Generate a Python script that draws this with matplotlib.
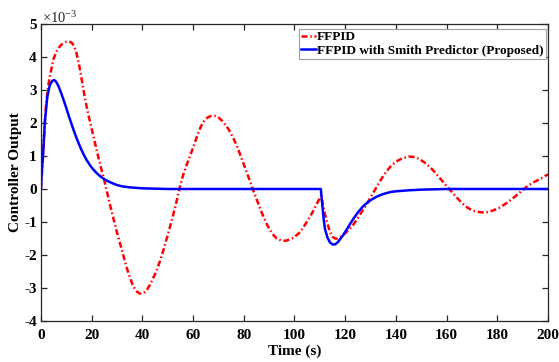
import matplotlib
matplotlib.use("Agg")
import matplotlib.pyplot as plt

# (time s, controller output in units of 1e-3)
ffpid_points = [
    (0, 0), (0.8, 1.0), (1.5, 2.0), (2, 2.55), (2.5, 2.9), (3, 3.2), (3.5, 3.4), (4, 3.6),
    (5, 3.95), (6, 4.15), (7, 4.28), (8, 4.37), (9, 4.43), (10, 4.46), (11, 4.47),
    (12, 4.44), (13, 4.35), (14, 4.12), (15, 3.78), (16, 3.35), (17, 2.9), (18, 2.5),
    (19, 2.15), (20, 1.82), (21, 1.5), (22, 1.17), (23, 0.85), (24, 0.55), (25, 0.25),
    (26, -0.08), (27, -0.4), (28, -0.72), (29, -1.02), (30, -1.32), (31, -1.6),
    (32, -1.88), (33, -2.15), (34, -2.43), (35, -2.66), (36, -2.87), (37, -3.02),
    (38, -3.12), (39, -3.17), (40, -3.17), (41, -3.12), (42, -3.03), (43, -2.9),
    (44, -2.74), (45, -2.58), (46, -2.39), (47, -2.17), (48, -1.93), (49, -1.67),
    (50, -1.4), (51, -1.12), (52, -0.83), (53, -0.53), (54, -0.2), (55, 0.12),
    (56, 0.4), (57, 0.63), (58, 0.84), (59, 1.04), (60, 1.25), (61, 1.47), (62, 1.69),
    (63, 1.88), (64, 2.02), (65, 2.12), (66, 2.18), (67, 2.21), (68, 2.22), (69, 2.21),
    (70, 2.17), (71, 2.1), (72, 2.02), (73, 1.92), (74, 1.81), (75, 1.67), (76, 1.52),
    (77, 1.35), (78, 1.16), (79, 0.96), (80, 0.75), (81, 0.54), (82, 0.33), (83, 0.12),
    (84, -0.1), (85, -0.3), (86, -0.5), (87, -0.7), (88, -0.88), (89, -1.05),
    (90, -1.2), (91, -1.32), (92, -1.42), (93, -1.5), (94, -1.54), (95, -1.56),
    (96, -1.57), (97, -1.56), (98, -1.53), (99, -1.5), (100, -1.45), (101, -1.39),
    (102, -1.32), (103, -1.22), (104, -1.1), (105, -0.98), (106, -0.85), (107, -0.72),
    (108, -0.57), (109, -0.42), (110, -0.28), (110.5, -0.2), (111, -0.4), (112, -0.75),
    (113, -1.05), (114, -1.3), (115, -1.45), (116, -1.5), (117, -1.5), (118, -1.46),
    (119, -1.4), (120, -1.34), (121, -1.27), (122, -1.19), (123, -1.1), (124, -0.99),
    (125, -0.88), (126, -0.76), (127, -0.64), (128, -0.52), (129, -0.39), (130, -0.26),
    (131, -0.13), (132, 0.01), (133, 0.14), (134, 0.27), (135, 0.39), (136, 0.5),
    (137, 0.6), (138, 0.69), (139, 0.76), (140, 0.82), (141, 0.87), (142, 0.91),
    (143, 0.94), (144, 0.96), (145, 0.98), (146, 0.98), (147, 0.97), (148, 0.95),
    (149, 0.92), (150, 0.87), (151, 0.82), (152, 0.76), (153, 0.69), (154, 0.62),
    (155, 0.54), (156, 0.45), (157, 0.36), (158, 0.27), (159, 0.18), (160, 0.09),
    (161, 0.0), (162, -0.08), (163, -0.17), (164, -0.26), (165, -0.34), (166, -0.42),
    (167, -0.49), (168, -0.55), (169, -0.6), (170, -0.64), (171, -0.67), (172, -0.69),
    (173, -0.7), (174, -0.71), (175, -0.71), (176, -0.7), (177, -0.68), (178, -0.66),
    (179, -0.63), (180, -0.6), (181, -0.56), (182, -0.51), (183, -0.46), (184, -0.41),
    (185, -0.35), (186, -0.29), (187, -0.23), (188, -0.16), (189, -0.1), (190, -0.03),
    (191, 0.03), (192, 0.09), (193, 0.14), (194, 0.19), (195, 0.23), (196, 0.27),
    (197, 0.31), (198, 0.35), (199, 0.4), (200, 0.44),
]

smith_points = [
    (0, 0), (0.3, 0.5), (0.8, 1.0), (1.5, 2.0), (2.5, 2.8), (3.5, 3.15), (4.5, 3.28),
    (5.2, 3.3), (6, 3.25), (7, 3.1), (8, 2.9), (9, 2.68), (10, 2.45), (11, 2.21),
    (12, 1.98), (13, 1.76), (14, 1.55), (15, 1.36), (16, 1.18), (17, 1.02), (18, 0.88),
    (19, 0.76), (20, 0.65), (21, 0.56), (22, 0.48), (23, 0.41), (24, 0.35), (25, 0.3),
    (26, 0.25), (28, 0.18), (30, 0.12), (32, 0.08), (35, 0.05), (40, 0.02), (45, 0.01),
    (50, 0), (110.4, 0), (111, -0.5), (111.5, -0.9), (112, -1.2), (113, -1.47),
    (114, -1.62), (115, -1.68), (116, -1.68), (117, -1.62), (118, -1.52), (119, -1.42),
    (120, -1.3), (121, -1.18), (122, -1.05), (123, -0.93), (124, -0.82), (125, -0.71),
    (126, -0.62), (127, -0.53), (128, -0.46), (129, -0.4), (130, -0.34), (132, -0.25),
    (134, -0.18), (136, -0.13), (138, -0.09), (140, -0.07), (145, -0.04), (150, -0.02),
    (160, 0), (200, 0),
]

ffpid_t = [p[0] for p in ffpid_points]
ffpid_v = [p[1] for p in ffpid_points]
smith_t = [p[0] for p in smith_points]
smith_v = [p[1] for p in smith_points]

x_ticks = [0, 20, 40, 60, 80, 100, 120, 140, 160, 180, 200]
y_ticks = [-4, -3, -2, -1, 0, 1, 2, 3, 4, 5]

plt.rcParams['font.family'] = ['Liberation Serif', 'DejaVu Serif']
plt.rcParams['mathtext.fontset'] = 'custom'
plt.rcParams['mathtext.rm'] = 'Liberation Serif'
plt.rcParams['mathtext.it'] = 'Liberation Serif:italic'

fig = plt.figure(figsize=(5.59, 3.62), dpi=100)
ax = fig.add_axes([0.0733, 0.1133, 0.9070, 0.8204])

ax.plot(ffpid_t, ffpid_v, color='#ff0000', linestyle=(0, (2.4, 1.1, 0.6, 1.1)),
        linewidth=1.8, label='FFPID')
ax.plot(smith_t, smith_v, color='#0000ff', linestyle='-', linewidth=1.8,
        label='FFPID with Smith Predictor (Proposed)')

ax.set_xlim(0, 200)
ax.set_ylim(-4, 5)
ax.set_xticks(x_ticks)
ax.set_yticks(y_ticks)
ax.set_xticklabels([str(v) for v in x_ticks], fontweight='bold', fontsize=11)
ax.set_yticklabels([str(v) for v in y_ticks], fontweight='bold', fontsize=11)
ax.tick_params(direction='in', top=True, right=True, length=4, width=0.9,
               color='#262626')
ax.tick_params(axis='x', pad=5.5)
ax.tick_params(axis='y', pad=3)
for s in ax.spines.values():
    s.set_color('#262626')
    s.set_linewidth(0.9)

ax.set_xlabel('Time (s)', fontweight='bold', fontsize=11)
ax.set_ylabel('Controller Output', fontweight='bold', fontsize=11)
ax.xaxis.set_label_coords(0.5, -0.078)
ax.yaxis.set_label_coords(-0.038, 0.5)

fig.text(0.076, 0.928, r'$\times10^{-3}$', fontsize=10.5, ha='left', va='bottom',
         color='#262626')

leg = ax.legend(loc='upper right', bbox_to_anchor=(0.9955, 0.983),
                prop={'weight': 'bold', 'size': 9.5}, handlelength=1.1,
                handletextpad=0.1, borderpad=0.15, labelspacing=0.1,
                borderaxespad=0.0, fancybox=False, framealpha=1)
leg.get_frame().set_edgecolor('#a0a0a0')
leg.get_frame().set_linewidth(0.8)

fig.savefig('out.png', dpi=100)
